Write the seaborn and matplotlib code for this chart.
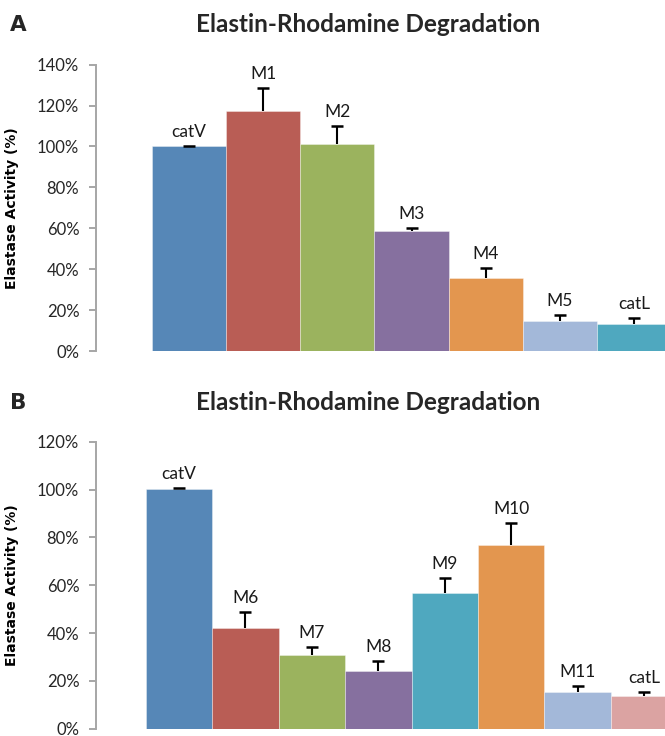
import numpy as np
import pandas as pd
import matplotlib
matplotlib.use('Agg')
import matplotlib.pyplot as plt
import seaborn as sns

# Panel A data
labels_a = ['catV', 'M1', 'M2', 'M3', 'M4', 'M5', 'catL']
activity_a = [100.0, 117.2, 101.0, 58.5, 35.8, 14.8, 13.0]
error_a = [0.3, 11.6, 9.0, 1.6, 4.8, 2.9, 3.0]
colors_a = ['#5687B7', '#B95D55', '#9BB35E', '#86709F', '#E3964F', '#A3B8D9', '#4FA8BF']

# Panel B data
labels_b = ['catV', 'M6', 'M7', 'M8', 'M9', 'M10', 'M11', 'catL']
activity_b = [100.2, 42.3, 30.7, 24.3, 56.6, 77.0, 15.2, 13.7]
error_b = [0.3, 6.4, 3.6, 4.0, 6.6, 8.9, 2.7, 1.7]
colors_b = ['#5687B7', '#B95D55', '#9BB35E', '#86709F', '#4FA8BF', '#E3964F', '#A3B8D9', '#DBA3A2']

yticks_a = [0, 20, 40, 60, 80, 100, 120, 140]
yticks_b = [0, 20, 40, 60, 80, 100, 120]

sns.set_style('white')
plt.rcParams['font.family'] = ['Lato', 'DejaVu Sans']

W, H = 665, 736
fig = plt.figure(figsize=(W / 100, H / 100), dpi=100)

ax_a = fig.add_axes([96 / W, 1 - 351 / H, 631 / W, 286.3 / H])
ax_b = fig.add_axes([96 / W, 1 - 728.7 / H, 631 / W, 287 / H])


def draw_panel(ax, labels, vals, errs, colors, yticks):
    df = pd.DataFrame({'sample': labels, 'activity': vals})
    sns.barplot(data=df, x='sample', y='activity', hue='sample',
                palette=colors, saturation=1, width=1.0, legend=False, ax=ax,
                edgecolor='#ffffff80', linewidth=0.5)
    x = np.arange(len(labels))
    vals = np.array(vals)
    errs = np.array(errs)
    # plus-only error bars
    ax.vlines(x, vals, vals + errs, color='black', lw=1.5)
    ax.plot(x, vals + errs, linestyle='none', marker='_', ms=9,
            mew=1.8, color='black')
    for xi, top, lab in zip(x, vals + errs, labels):
        ax.annotate(lab, (xi, top), xytext=(0, 14), textcoords='offset pixels',
                    ha='center', va='center', fontsize=12.5, color='#1a1a1a')
    ax.set_xlim(-1.25, len(labels) + 0.25)
    ax.set_ylim(0, yticks[-1])
    ax.set_yticks(yticks)
    ax.set_yticklabels([f'{t}%' for t in yticks], fontsize=12, color='#262626')
    ax.set_xticks([])
    ax.set_xlabel('')
    ax.set_ylabel('Elastase Activity (%)', fontsize=10, fontweight='bold',
                  family=['DejaVu Sans'], color='black')
    ax.yaxis.set_label_coords(-0.122, 0.5)
    for s in ['top', 'right', 'bottom']:
        ax.spines[s].set_visible(False)
    ax.spines['left'].set_color('#A6A6A6')
    ax.spines['left'].set_linewidth(1.4)
    ax.tick_params(axis='y', direction='out', length=5, width=1.4,
                   color='#A6A6A6', pad=7, left=True)


draw_panel(ax_a, labels_a, activity_a, error_a, colors_a, yticks_a)
draw_panel(ax_b, labels_b, activity_b, error_b, colors_b, yticks_b)

for ypix, letter in [(25, 'A'), (403, 'B')]:
    fig.text(368 / W, 1 - ypix / H, 'Elastin-Rhodamine Degradation',
             ha='center', va='center', fontsize=17.5, fontweight='bold')
    fig.text(10 / W, 1 - ypix / H, letter, ha='left', va='center',
             fontsize=15.5, fontweight='heavy',
             family=['DejaVu Sans'])

fig.savefig('out.png', dpi=100)
